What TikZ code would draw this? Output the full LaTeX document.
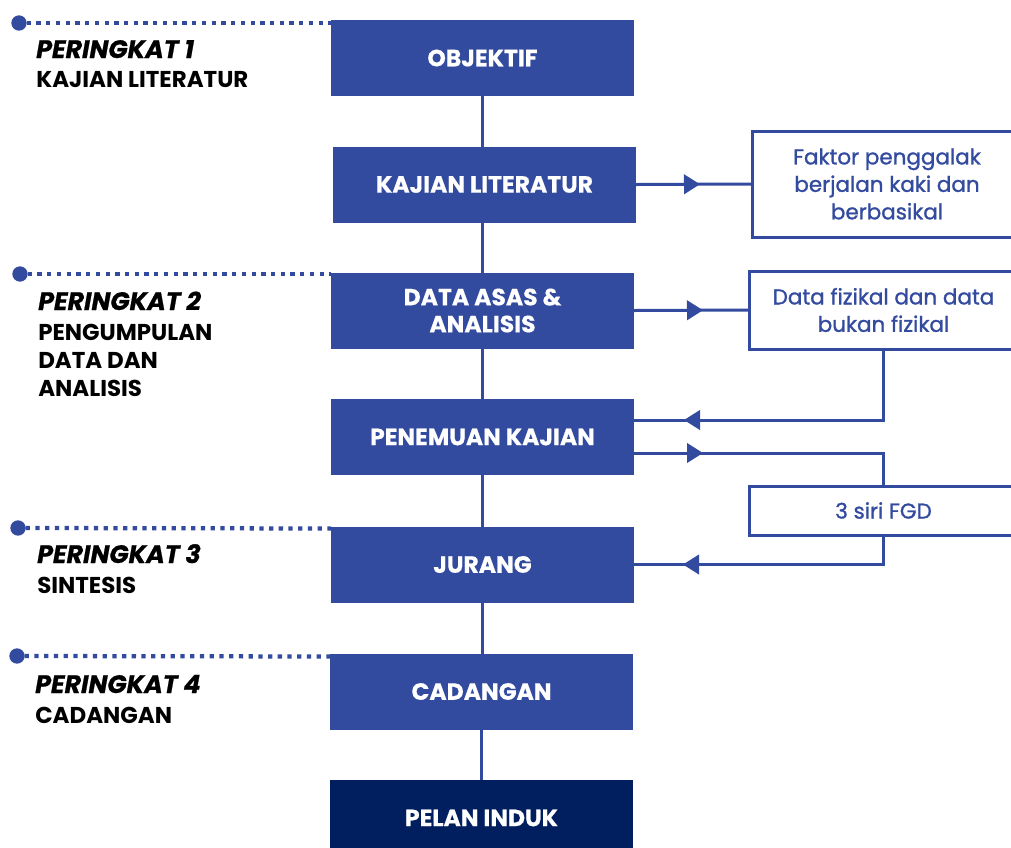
\documentclass[tikz,border=0pt]{standalone}
\usepackage{fontspec}
\setmainfont{Poppins}
\usetikzlibrary{arrows.meta,calc,decorations.markings}
\definecolor{flowblue}{RGB}{51,75,159}
\definecolor{flownavy}{RGB}{1,31,95}

\begin{document}
\begin{tikzpicture}[x=0.75pt,y=-0.75pt,
  stage/.style={fill=flowblue,text=white,minimum width=227.25pt,minimum height=57pt,
    inner sep=0pt,outer sep=0pt,align=center,
    font=\bfseries\fontsize{17.6}{20.25}\selectfont\addfontfeature{FakeBold=0.5}},
  finalstage/.style={stage,fill=flownavy},
  note/.style={draw=flowblue,line width=2.25pt,text=flowblue,inner sep=0pt,outer sep=0pt,
    minimum width=201.75pt,align=center,
    font=\fontsize{16.1}{20.6}\selectfont\addfontfeature{FakeBold=1.2}},
  link/.style={draw=flowblue,line width=2.25pt},
  tipat/.style={postaction={decorate},decoration={markings,
    mark=at position #1 with {\arrow{Triangle[length=12pt,width=14.5pt]}}}},
  level/.style={circle,fill=flowblue,minimum size=11.5pt,inner sep=0pt,outer sep=0pt},
  levelline/.style={draw=flowblue,line width=3.2pt,dash pattern=on 3.2pt off 4.1pt},
  leveltitle/.style={anchor=base west,inner sep=0pt,
    font=\bfseries\itshape\fontsize{18.9}{21}\selectfont\addfontfeature{FakeBold=0.8}},
  levelsub/.style={anchor=base west,inner sep=0pt,font=\bfseries\fontsize{17.2}{21}\selectfont}
]
\clip (0,0) rectangle (1011,847);

% main column of stages
\node[stage] (obj) at (482.5,58) {OBJEKTIF};
\node[stage] (kaj) at (484.5,184.5) {KAJIAN LITERATUR};
\node[stage] (dat) at (482.5,310.5) {DATA ASAS \&\\ANALISIS};
\node[stage] (pen) at (482.5,437) {PENEMUAN KAJIAN};
\node[stage] (jur) at (482.5,564.5) {JURANG};
\node[stage] (cad) at (481.5,691.5) {CADANGAN};
\node[finalstage] (pel) at (481.5,818) {PELAN INDUK};

\draw[link] (obj.south) -- (obj.south |- kaj.north);
\draw[link] (obj.south |- kaj.south) -- (obj.south |- dat.north);
\draw[link] (dat.south) -- (dat.south |- pen.north);
\draw[link] (pen.south) -- (pen.south |- jur.north);
\draw[link] (jur.south) -- (jur.south |- cad.north);
\draw[link] (cad.south) -- (cad.south |- pel.north);

% side notes
\node[note,minimum height=79.5pt] (fak) at (887,184) {Faktor penggalak\\berjalan kaki dan\\berbasikal};
\node[note,minimum height=58.5pt] (dfz) at (883.5,310) {Data fizikal dan data\\bukan fizikal};
\node[note,minimum height=36.75pt] (fgd) at (883.5,510.5) {3 siri FGD};

\draw[link,tipat=48pt] (kaj.east) -- (fak.west);
\draw[link,tipat=51.75pt] (dat.east) -- (dfz.west);
\draw[link,tipat=-37.5pt] (dfz.south) |- ($(pen.east)+(0,-17)$);
\draw[link,tipat=51.75pt] ($(pen.east)+(0,16)$) -| (fgd.north);
\draw[link,tipat=-36.75pt] (fgd.south) |- (jur.east);

% levels on the left
\node[level] (p1) at (19,23) {};
\node[level] (p2) at (20,274) {};
\node[level] (p3) at (18,528) {};
\node[level] (p4) at (17,656) {};
\draw[levelline] (p1.east) -- ($(obj.north west)+(0,3)$);
\draw[levelline] (p2.east) -- ($(dat.north west)+(0,1.5)$);
\draw[levelline] (p3.east) -- ($(jur.north west)+(0,2)$);
\draw[levelline] (p4.east) -- ($(cad.north west)+(0,3)$);

\node[leveltitle] (t1) at (36,58) {PERINGKAT 1};
\node[levelsub] (s1) at (36,87) {KAJIAN LITERATUR};
\node[leveltitle] (t2) at (38,310) {PERINGKAT 2};
\node[levelsub] (s2a) at (38,340) {PENGUMPULAN};
\node[levelsub] (s2b) at (38,368) {DATA DAN};
\node[levelsub] (s2c) at (38,396) {ANALISIS};
\node[leveltitle] (t3) at (37,563) {PERINGKAT 3};
\node[levelsub] (s3) at (37,593) {SINTESIS};
\node[leveltitle] (t4) at (35,693) {PERINGKAT 4};
\node[levelsub] (s4) at (35,723) {CADANGAN};
\end{tikzpicture}
\end{document}
